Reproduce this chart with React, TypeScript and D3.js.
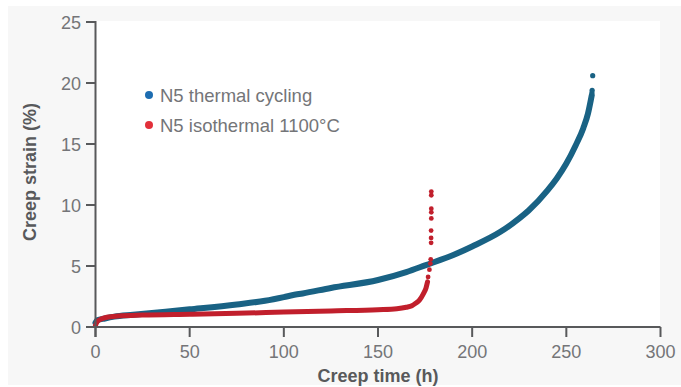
import React from "react";
import * as d3 from "d3";

const xTicks = [0, 50, 100, 150, 200, 250, 300];
const yTicks = [0, 5, 10, 15, 20, 25];

// N5 thermal cycling: dense band (time h, strain %)
const cyclingT = [0, 1, 5, 10, 20, 30, 50, 75, 90, 100, 105, 110, 125, 150, 165, 175, 190, 200, 215, 225, 230, 240, 245, 250, 255, 259, 261.5, 263, 263.5];
const cyclingV = [0.35, 0.55, 0.7, 0.85, 1.0, 1.15, 1.45, 1.85, 2.15, 2.45, 2.62, 2.75, 3.2, 3.85, 4.5, 5.05, 5.9, 6.6, 7.8, 8.9, 9.55, 11.2, 12.2, 13.4, 14.9, 16.3, 17.5, 18.6, 19.0];
// sparse end points
const cyclingDotT = [263.6, 263.7, 264.0];
const cyclingDotV = [19.2, 19.4, 20.6];

// N5 isothermal 1100°C: dense band
const isoT = [0, 1, 3, 6, 12, 25, 50, 75, 100, 125, 150, 160, 165, 168, 170, 172, 174, 175.5, 176.3];
const isoV = [0.15, 0.45, 0.65, 0.8, 0.9, 0.98, 1.05, 1.12, 1.22, 1.32, 1.42, 1.5, 1.62, 1.75, 1.95, 2.2, 2.7, 3.2, 3.7];
const isoDotT = [176.6, 177.3, 177.8, 178.0, 178.2, 178.2, 178.2, 178.3, 178.3, 178.3, 178.3, 178.3];
const isoDotV = [4.1, 4.7, 5.2, 5.55, 6.9, 7.3, 7.9, 8.9, 9.4, 9.7, 10.8, 11.1];

const legendLabels = ["N5 thermal cycling", "N5 isothermal 1100°C"];

const BLUE = "#196284";
const RED = "#c11f2c";
const LEG_BLUE = "#1d6db1";
const LEG_RED = "#e2303a";
const AXIS = "#58595b";
const TEXT = "#747578";
const FONT = "'Liberation Sans', Arial, Helvetica, sans-serif";

export default function App() {
  const x = d3.scaleLinear().domain([0, 300]).range([95.5, 660.5]);
  const y = d3.scaleLinear().domain([0, 25]).range([327, 22]);

  const line = d3
    .line<[number, number]>()
    .x((d) => x(d[0]))
    .y((d) => y(d[1]))
    .curve(d3.curveMonotoneX);

  const cyc: [number, number][] = cyclingT.map((t, i) => [t, cyclingV[i]]);
  const iso: [number, number][] = isoT.map((t, i) => [t, isoV[i]]);

  return (
    <svg
      width={681}
      height={387}
      style={{ position: "absolute", left: 0, top: 0, fontFamily: FONT }}
    >
      <rect x={0} y={0} width={681} height={387} fill="#ffffff" />
      <rect x={8} y={6} width={673} height={379} fill="#f7f7f7" />
      <rect x={96} y={21} width={564} height={306} fill="#ffffff" />

      {/* series */}
      <path d={line(cyc) || ""} fill="none" stroke={BLUE} strokeWidth={6} strokeLinecap="round" />
      {cyclingDotT.map((t, i) => (
        <circle key={"cd" + i} cx={x(t)} cy={y(cyclingDotV[i])} r={2.6} fill={BLUE} />
      ))}
      <path d={line(iso) || ""} fill="none" stroke={RED} strokeWidth={5} strokeLinecap="round" />
      {isoDotT.map((t, i) => (
        <circle key={"id" + i} cx={x(t)} cy={y(isoDotV[i])} r={2.4} fill={RED} />
      ))}

      {/* axes */}
      <line x1={86} x2={660.5} y1={327} y2={327} stroke={AXIS} strokeWidth={2} />
      <line x1={95.5} x2={95.5} y1={21} y2={337} stroke={AXIS} strokeWidth={2} />
      {xTicks.map((t) => (
        <g key={"xt" + t}>
          <line x1={x(t)} x2={x(t)} y1={327} y2={337} stroke={AXIS} strokeWidth={2} />
          <text x={x(t)} y={358} textAnchor="middle" fontSize={18} fill={TEXT}>
            {t}
          </text>
        </g>
      ))}
      {yTicks.map((v) => (
        <g key={"yt" + v}>
          <line x1={86} x2={95.5} y1={y(v)} y2={y(v)} stroke={AXIS} strokeWidth={2} />
          <text x={81} y={y(v) + 6.5} textAnchor="end" fontSize={18} fill={TEXT}>
            {v}
          </text>
        </g>
      ))}

      <text x={378} y={382} textAnchor="middle" fontSize={18} fontWeight="bold" fill={AXIS}>
        Creep time (h)
      </text>
      <text
        transform="translate(36,172) rotate(-90)"
        textAnchor="middle"
        fontSize={18}
        fontWeight="bold"
        fill={AXIS}
      >
        Creep strain (%)
      </text>

      {/* legend */}
      <circle cx={149} cy={95} r={4} fill={LEG_BLUE} />
      <text x={160} y={101.5} fontSize={18.5} fill={TEXT}>
        {legendLabels[0]}
      </text>
      <circle cx={149} cy={125} r={4} fill={LEG_RED} />
      <text x={160} y={131.5} fontSize={18.5} fill={TEXT}>
        {legendLabels[1]}
      </text>
    </svg>
  );
}
